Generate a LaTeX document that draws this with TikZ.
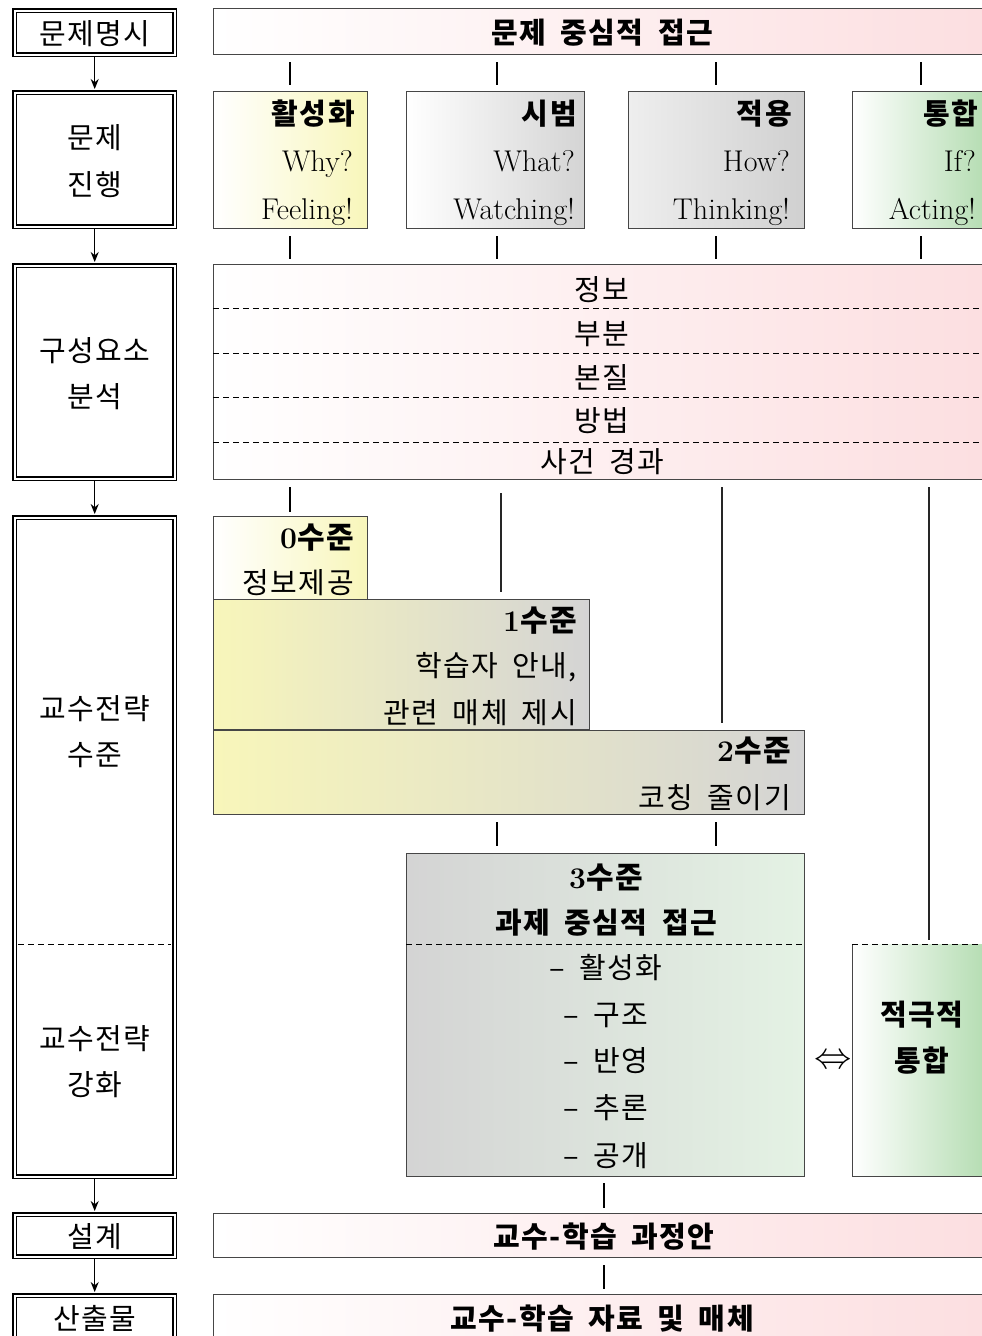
\documentclass[tikz,border=0pt]{standalone}
\usepackage{fontspec}
\newfontfamily\kr{Noto Sans CJK KR}[LetterSpace=5,WordSpace=1.8]
\usetikzlibrary{arrows.meta}
\definecolor{pinkR}{RGB}{252,222,224}
\definecolor{yel}{RGB}{248,246,186}
\definecolor{gry}{RGB}{212,212,212}
\definecolor{gryL}{RGB}{238,238,238}
\definecolor{gryD}{RGB}{208,208,208}
\definecolor{grn}{RGB}{166,214,163}
\definecolor{lgrn}{RGB}{228,242,228}
\definecolor{frame}{RGB}{70,70,70}
\begin{document}
\begin{tikzpicture}[x=1pt,y=-1pt,
  kt/.style={font=\kr\fontsize{29}{34}\selectfont, inner sep=0pt},
  ktb/.style={font=\kr\bfseries\fontsize{29}{34}\selectfont, inner sep=0pt},
  lt/.style={font=\fontsize{30}{36}\selectfont, inner sep=0pt},
  lbox/.style={draw, line width=1.4pt, double=white, double distance=1.8pt, inner sep=0pt, anchor=north west},
  rbox/.style={draw=frame, line width=0.9pt, inner sep=0pt, anchor=north west},
  sbox/.style={inner sep=0pt, anchor=north west},
  tick/.style={line width=1.8pt},
  vline/.style={line width=1.2pt, draw=black!85},
  dline/.style={dash pattern=on 6pt off 4pt, line width=0.8pt},
  arr/.style={-{Stealth[length=10pt,width=8pt]}, line width=1.3pt}
]
\clip (0,0) rectangle (982,1336);
\fill[white] (0,0) rectangle (982,1336);

% ---------------- left column ----------------
\node[lbox, minimum width=160, minimum height=44] (n1) at (14,10) {};
\node[lbox, minimum width=160, minimum height=134] (n2) at (14,92) {};
\node[lbox, minimum width=160, minimum height=213] (n3) at (14,265) {};
\node[lbox, minimum width=160, minimum height=659] (n4) at (14,517) {};
\node[lbox, minimum width=160, minimum height=42] (n5) at (14,1214) {};
\node[lbox, minimum width=160, minimum height=60] (n6) at (14,1295) {};
\draw[dline] (18,944) -- (171,944);

\node[kt, anchor=base] (t1) at (95,44) {문제명시};
\node[kt, anchor=base] (t2a) at (95,148) {문제};
\node[kt, anchor=base] (t2b) at (95,195) {진행};
\node[kt, anchor=base] (t3a) at (95,361) {구성요소};
\node[kt, anchor=base] (t3b) at (95,407) {분석};
\node[kt, anchor=base] (t4a) at (95,719) {교수전략};
\node[kt, anchor=base] (t4b) at (95,765) {수준};
\node[kt, anchor=base] (t5a) at (95,1049) {교수전략};
\node[kt, anchor=base] (t5b) at (95,1095) {강화};
\node[kt, anchor=base] (t6) at (95,1247) {설계};
\node[kt, anchor=base] (t7) at (95,1329) {산출물};

\draw[arr, shorten <=2pt, shorten >=3pt] (n1.south) -- (n2.north);
\draw[arr, shorten <=2pt, shorten >=3pt] (n2.south) -- (n3.north);
\draw[arr, shorten <=2pt, shorten >=3pt] (n3.south) -- (n4.north);
\draw[arr, shorten <=2pt, shorten >=3pt] (n4.south) -- (n5.north);
\draw[arr, shorten <=2pt, shorten >=3pt] (n5.south) -- (n6.north);

% ---------------- top bar ----------------
\node[rbox, left color=white, right color=pinkR, minimum width=790, minimum height=46] (p1) at (213,8) {};
\node[ktb, anchor=base] (p1t) at (602,43) {문제 중심적 접근};

% ticks row 1
\foreach \x/\n in {290/a,497/b,716/c,921/d}{
  \coordinate (r1\n) at (\x,62); \coordinate (r1\n e) at (\x,85);
  \draw[tick] (r1\n) -- (r1\n e);
}

% ---------------- four phase boxes ----------------
\node[rbox, left color=white, right color=yel, minimum width=154, minimum height=137] (b1) at (213,91) {};
\node[rbox, left color=white, right color=gry, minimum width=178, minimum height=137] (b2) at (406,91) {};
\node[rbox, left color=gryL, right color=gryD, minimum width=176, minimum height=137] (b3) at (628,91) {};
\node[rbox, left color=white, right color=grn, minimum width=160, minimum height=137] (b4) at (852,91) {};

\node[ktb, anchor=base east] (b1a) at (355,124) {활성화};
\node[lt, anchor=base east] (b1b) at (353,171) {Why?};
\node[lt, anchor=base east] (b1c) at (353,219) {Feeling!};
\node[ktb, anchor=base east] (b2a) at (577,124) {시범};
\node[lt, anchor=base east] (b2b) at (575,171) {What?};
\node[lt, anchor=base east] (b2c) at (575,219) {Watching!};
\node[ktb, anchor=base east] (b3a) at (792,124) {적용};
\node[lt, anchor=base east] (b3b) at (790,171) {How?};
\node[lt, anchor=base east] (b3c) at (790,219) {Thinking!};
\node[ktb, anchor=base east] (b4a) at (978,124) {통합};
\node[lt, anchor=base east] (b4b) at (976,171) {If?};
\node[lt, anchor=base east] (b4c) at (976,219) {Acting!};

% ticks row 2
\foreach \x/\n in {290/a,497/b,716/c,921/d}{
  \coordinate (r2\n) at (\x,236); \coordinate (r2\n e) at (\x,259);
  \draw[tick] (r2\n) -- (r2\n e);
}

% ---------------- component box ----------------
\node[rbox, left color=white, right color=pinkR, minimum width=790, minimum height=215] (cb) at (213,264) {};
\foreach \y in {308,353,397,442}{ \draw[dline] (213,\y) -- (982,\y); }
\node[kt, anchor=base] (c1) at (602,300) {정보};
\node[kt, anchor=base] (c2) at (602,344) {부분};
\node[kt, anchor=base] (c3) at (602,388) {본질};
\node[kt, anchor=base] (c4) at (602,431) {방법};
\node[kt, anchor=base] (c5) at (602,472) {사건 경과};

% ---------------- levels ----------------
\node[rbox, left color=white, right color=yel, minimum width=154, minimum height=83] (L0) at (213,516) {};
\node[rbox, left color=yel, right color=gry, minimum width=376, minimum height=130] (L1) at (213,599) {};
\node[rbox, left color=yel, right color=gry, minimum width=591, minimum height=84] (L2) at (213,730) {};
\node[rbox, left color=gry, right color=lgrn, minimum width=398, minimum height=323] (L3) at (406,853) {};
\draw[dline] (406,944) -- (804,944);

\node[sbox, left color=white, right color=grn, minimum width=160, minimum height=232] (act) at (852,944) {};
\draw[frame, line width=0.9pt] (act.north west) -- (act.south west) -- (act.south east);
\draw[dline] (act.north west) -- (act.north east);

\node[anchor=base east, inner sep=0pt] (L0a) at (354,548) {\fontsize{30}{36}\selectfont\bfseries 0\kr 수준};
\node[kt, anchor=base east] (L0b) at (354,593) {정보제공};
\node[anchor=base east, inner sep=0pt] (L1a) at (577,631) {\fontsize{30}{36}\selectfont\bfseries 1\kr 수준};
\node[kt, anchor=base east] (L1b) at (577,676) {학습자 안내,};
\node[kt, anchor=base east] (L1c) at (577,723) {관련 매체 제시};
\node[anchor=base east, inner sep=0pt] (L2a) at (791,761) {\fontsize{30}{36}\selectfont\bfseries 2\kr 수준};
\node[kt, anchor=base east] (L2b) at (791,808) {코칭 줄이기};

\node[anchor=base, inner sep=0pt] (L3a) at (606,888) {\fontsize{30}{36}\selectfont\bfseries 3\kr 수준};
\node[ktb, anchor=base] (L3b) at (606,933) {과제 중심적 접근};
\node[kt, anchor=base] (L3c) at (606,978) {–\ 활성화};
\node[kt, anchor=base] (L3d) at (606,1025) {–\ 구조};
\node[kt, anchor=base] (L3e) at (606,1071) {–\ 반영};
\node[kt, anchor=base] (L3f) at (606,1118) {–\ 추론};
\node[kt, anchor=base] (L3g) at (606,1166) {–\ 공개};

\node[ktb, anchor=base] (A1) at (922,1025) {적극적};
\node[ktb, anchor=base] (A2) at (922,1071) {통합};
\node[inner sep=0pt, scale=1.5, font=\fontsize{30}{36}\selectfont] (lr) at (833,1062) {$\Leftrightarrow$};

% connectors to levels
\coordinate (s0) at (290,487); \coordinate (s0e) at (290,512);
\draw[tick] (s0) -- (s0e);
\coordinate (s1) at (501,493);
\draw[vline, shorten >=7pt] (s1) -- (L1.north -| s1);
\coordinate (s2) at (722,487);
\draw[vline, shorten >=7pt] (s2) -- (L2.north -| s2);
\coordinate (s3) at (929,487);
\draw[vline, shorten >=4pt] (s3) -- (act.north -| s3);

\foreach \x/\n in {497/a,716/b}{
  \coordinate (r3\n) at (\x,822); \coordinate (r3\n e) at (\x,846);
  \draw[tick] (r3\n) -- (r3\n e);
}

% ---------------- bottom bars ----------------
\node[rbox, left color=white, right color=pinkR, minimum width=790, minimum height=44] (d1) at (213,1213) {};
\node[ktb, anchor=base] (d1t) at (604,1247) {교수-학습 과정안};
\node[rbox, left color=white, right color=pinkR, minimum width=790, minimum height=60] (d2) at (213,1294) {};
\node[ktb, anchor=base] (d2t) at (602,1329) {교수-학습 자료 및 매체};

\coordinate (u1) at (604,1183); \coordinate (u1e) at (604,1208);
\draw[tick] (u1) -- (u1e);
\coordinate (u2) at (604,1265); \coordinate (u2e) at (604,1289);
\draw[tick] (u2) -- (u2e);
\end{tikzpicture}
\end{document}
